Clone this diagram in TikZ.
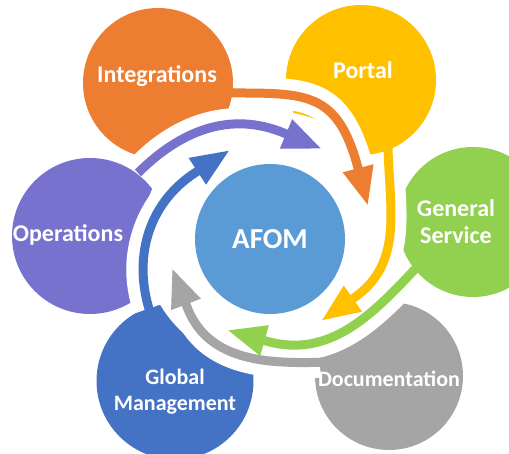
\documentclass[tikz,border=0pt]{standalone}
\usepackage{fontspec}
\setmainfont{Carlito}
\usepackage{tikz}
\usetikzlibrary{arrows.meta, calc}
\definecolor{afomblue}{HTML}{5B9BD5}
\definecolor{intorange}{HTML}{ED7D31}
\definecolor{poryellow}{HTML}{FFC000}
\definecolor{gengreen}{HTML}{92D050}
\definecolor{docgray}{HTML}{A5A5A5}
\definecolor{globblue}{HTML}{4472C4}
\definecolor{opepurple}{HTML}{7672CE}
\tikzset{
petal/.style={circle, inner sep=0pt, minimum size=#1}, % the outer circles
hub/.style={circle, fill=afomblue, inner sep=0pt, minimum size=150pt,
  text=white, font=\bfseries\fontsize{29}{32}\selectfont},
lbl/.style={text=white, inner sep=0pt, align=center,
  font=\bfseries\fontsize{24}{27}\selectfont}, % text on the circles
lblsmall/.style={lbl, font=\bfseries\fontsize{22}{26}\selectfont},
halo/.style={white, line width=31pt, shorten <=10pt}, % white gap round a band
band/.style={draw=#1, line width=9pt, -{Triangle[length=39pt, width=29pt]}},
}

\begin{document}
\begin{tikzpicture}[x=1pt, y=1pt]
  \useasboundingbox (0,0) rectangle (509,454);
  \coordinate (hub) at (270,215);

  % Outer circles ------------------------------------
  \node[petal=150pt, fill=intorange] (integ)  at (158,371) {};
  \node[petal=150pt, fill=poryellow] (portal) at (361,374) {};
  \node[petal=150pt, fill=gengreen]  (gener)  at (473,232) {};
  \node[petal=148pt, fill=docgray]   (docu)   at (389,78)  {};
  \node[petal=157pt, fill=globblue]  (glob)   at (175,73)  {};
  \node[petal=156pt, fill=opepurple] (oper)   at (90,218)  {};

  % white ring round the hub
  \fill[white] (hub) circle[radius=128pt];

  % tail, head base and tip of each arrow
  \coordinate (intA) at (228,361);
  \coordinate (intB) at (358,286);
  \coordinate (intC) at (368,248);
  \coordinate (porA) at (388,308);
  \coordinate (porB) at (354.5,156.5);
  \coordinate (porC) at (321,133);
  \coordinate (genA) at (417,187);
  \coordinate (genB) at (266,113);
  \coordinate (genC) at (227,124);
  \coordinate (docA) at (330,92);
  \coordinate (docB) at (187,147);
  \coordinate (docC) at (172,186);
  \coordinate (gloA) at (152,136);
  \coordinate (gloB) at (195.5,281.5);
  \coordinate (gloC) at (230,304);
  \coordinate (opeA) at (138,281);
  \coordinate (opeB) at (285,320.5);
  \coordinate (opeC) at (322,305);

  % Halos ---------------------------------------------
  \draw[halo] (intA) to[out=0, in=105, looseness=1.35] (intB);
  \draw[halo] (porA) to[out=-89, in=35] (porB);
  \draw[halo] (genA) to[out=227, in=344] (genB);
  \draw[halo] (docA) to[out=182, in=291] (docB);
  \draw[halo] (gloA) to[out=110, in=213] (gloB);
  \draw[halo] (opeA) to[out=45, in=157] (opeB);

  % Arrows --------------------------------------------
  \draw[band=intorange] (intA) to[out=0, in=105, looseness=1.35] (intB) -- (intC);
  \draw[band=poryellow] (porA) to[out=-89, in=35] (porB) -- (porC);
  \draw[band=gengreen]  (genA) to[out=227, in=344] (genB) -- (genC);
  \draw[band=docgray]   (docA) to[out=182, in=291] (docB) -- (docC);
  \draw[band=globblue]  (gloA) to[out=110, in=213] (gloB) -- (gloC);
  \draw[band=opepurple] (opeA) to[out=45, in=157] (opeB) -- (opeC);

  % Hub and texts -------------------------------------
  \node[hub] (afom) at (hub) {AFOM};
  \node[lbl] (integ-t)  at ([shift={(-1,7)}]integ.center)  {Integrations};
  \node[lbl] (portal-t) at ([shift={(2,9.5)}]portal.center) {Portal};
  \node[lbl] (gener-t)  at ([shift={(-17,0.5)}]gener.center) {General\\Service};
  \node[lblsmall] (docu-t) at ([shift={(0,-2.5)}]docu.center) {Documentation};
  \node[lblsmall] (glob-t) at ([shift={(0,-10.5)}]glob.center) {Global\\Management};
  \node[lbl] (oper-t)   at ([shift={(-22,1.5)}]oper.center)  {Operations};
\end{tikzpicture}
\end{document}
